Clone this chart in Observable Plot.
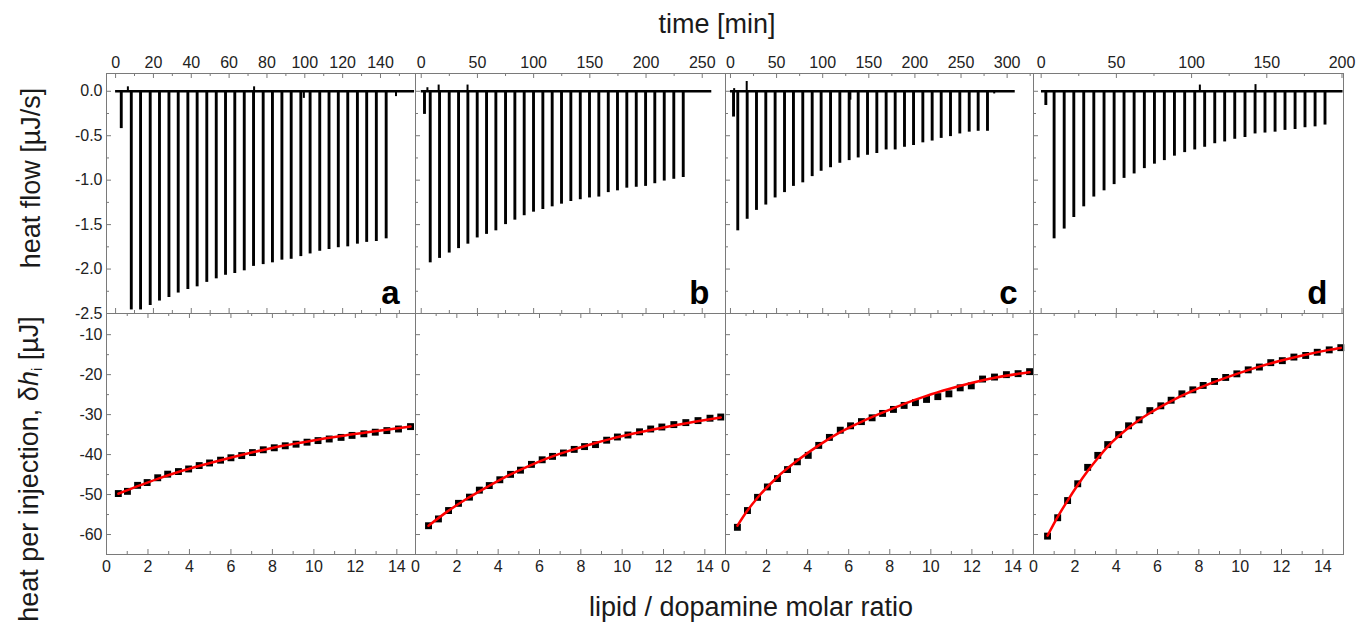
<!DOCTYPE html>
<html><head><meta charset="utf-8">
<script src="https://cdn.jsdelivr.net/npm/d3@7"></script>
<script src="https://cdn.jsdelivr.net/npm/@observablehq/plot@0.6"></script>
<style>
html,body{margin:0;padding:0;background:#fff;}
#fig{position:relative;width:1359px;height:623px;overflow:hidden;background:#fff;font-family:"Liberation Sans",Arial,Helvetica,sans-serif;color:#1a1a1a;}
.lbl{position:absolute;font-size:27px;line-height:27px;white-space:nowrap;}
.rot{transform:translate(-50%,-50%) rotate(-90deg);}
.sub{font-size:0.55em;position:relative;top:0.3em;}
</style></head><body>
<div id="fig">
  <div class="lbl" style="left:717px;top:11px;transform:translateX(-50%)">time [min]</div>
  <div class="lbl" style="left:751px;top:594px;transform:translateX(-50%)">lipid / dopamine molar ratio</div>
  <div class="lbl rot" style="left:30.6px;top:178px;">heat flow [µJ/s]</div>
  <div class="lbl rot" style="left:30.6px;top:469px;">heat per injection, δ<i>h</i><span class="sub">i</span> [µJ]</div>
</div>
<script>
// ---------- raw thermograms (injection time [min], peak heat flow [µJ/s]) ----------
const timeA = [3.0, 8.3, 13.2, 18.3, 23.2, 28.2, 33.1, 38.2, 43.1, 48.2, 53.2, 58.1, 63.0, 68.0, 72.9, 78.0, 82.9, 87.9, 92.8, 97.9, 102.8, 107.9, 112.8, 117.7, 122.7, 127.8, 132.7, 137.8, 143.0];
const peakA = [-0.42, -2.46, -2.46, -2.41, -2.36, -2.32, -2.27, -2.23, -2.20, -2.15, -2.11, -2.07, -2.05, -2.02, -1.97, -1.95, -1.93, -1.90, -1.89, -1.86, -1.83, -1.80, -1.78, -1.76, -1.75, -1.72, -1.70, -1.69, -1.66];
const timeB = [2.9, 8.0, 16.3, 24.9, 33.2, 41.5, 49.8, 58.1, 66.4, 75.0, 83.3, 91.6, 99.9, 108.2, 116.5, 124.8, 133.1, 141.5, 149.7, 158.0, 166.4, 174.6, 182.9, 191.3, 199.6, 207.8, 216.2, 224.7, 233.1];
const peakB = [-0.26, -1.93, -1.88, -1.82, -1.77, -1.72, -1.65, -1.61, -1.57, -1.50, -1.45, -1.40, -1.36, -1.33, -1.30, -1.27, -1.24, -1.22, -1.20, -1.19, -1.14, -1.12, -1.09, -1.08, -1.07, -1.04, -1.01, -0.99, -0.97];
const timeC = [3.3, 7.9, 18.1, 28.2, 38.3, 48.4, 58.6, 68.3, 78.4, 88.6, 98.3, 108.5, 118.6, 128.7, 138.5, 148.6, 158.7, 168.8, 178.6, 188.7, 198.5, 208.6, 218.7, 228.5, 238.6, 248.7, 258.9, 268.6, 278.7];
const peakC = [-0.29, -1.57, -1.44, -1.34, -1.28, -1.20, -1.14, -1.07, -1.03, -0.96, -0.90, -0.86, -0.81, -0.78, -0.75, -0.72, -0.70, -0.66, -0.66, -0.63, -0.61, -0.58, -0.56, -0.53, -0.51, -0.48, -0.46, -0.45, -0.45];
const timeD = [3.1, 8.6, 15.3, 21.7, 28.3, 35.0, 41.8, 48.5, 55.1, 61.8, 68.6, 75.3, 81.9, 88.6, 95.4, 102.1, 108.7, 115.4, 122.0, 128.7, 135.5, 142.2, 148.8, 155.5, 162.1, 168.8, 175.4, 182.1, 188.7];
const peakD = [-0.16, -1.66, -1.55, -1.42, -1.30, -1.19, -1.12, -1.05, -0.98, -0.93, -0.87, -0.82, -0.78, -0.73, -0.69, -0.66, -0.63, -0.59, -0.57, -0.54, -0.52, -0.48, -0.47, -0.46, -0.44, -0.43, -0.41, -0.40, -0.38];
// baseline extent [start, end] in min
const baseA = [0, 158], baseB = [0, 258.5], baseC = [0, 308.8], baseD = [0.2, 200.7];
// small baseline artefacts
const blipTimeA = [6.5, 73.2, 99.5, 148.2], blipValA = [0.05, 0.05, -0.08, -0.06];
const blipTimeB = [5.5, 15.5, 41.2], blipValB = [0.04, 0.07, 0.07];
const blipTimeC = [4.0, 17.6, 130.0, 286.0], blipValC = [0.03, 0.11, -0.10, -0.03];
const blipTimeD = [105.5, 142.5], blipValD = [0.07, 0.075];

// ---------- integrated heats (molar ratio, heat per injection [µJ]) ----------
const ratioA = [0.57,1.01,1.50,1.96,2.47,2.95,3.47,3.96,4.47,4.97,5.50,6.00,6.52,7.04,7.56,8.09,8.62,9.14,9.67,10.20,10.74,11.31,11.84,12.41,12.96,13.52,14.08,14.66];
const heatA  = [-49.75,-49.2,-47.7,-47.0,-45.8,-44.9,-44.25,-43.6,-42.75,-42.1,-41.4,-40.8,-40.25,-39.5,-38.8,-38.3,-37.8,-37.4,-36.9,-36.5,-36.1,-35.7,-35.2,-34.8,-34.4,-34.0,-33.6,-33.0];
const ratioB = [0.63,1.11,1.60,2.08,2.61,3.09,3.57,4.08,4.60,5.08,5.61,6.13,6.63,7.16,7.68,8.18,8.71,9.25,9.77,10.28,10.84,11.38,11.92,12.50,13.08,13.67,14.25,14.77];
const heatB  = [-57.8,-56.1,-54.0,-52.2,-50.65,-48.9,-47.75,-46.3,-44.95,-43.9,-42.45,-41.3,-40.45,-39.6,-38.7,-38.0,-37.5,-36.4,-35.6,-35.1,-34.3,-33.6,-33.1,-32.5,-32.0,-31.5,-30.9,-30.6];
const ratioC = [0.58,1.07,1.56,2.04,2.53,3.02,3.50,4.03,4.54,5.06,5.59,6.09,6.62,7.14,7.65,8.18,8.70,9.25,9.79,10.34,10.88,11.43,11.97,12.52,13.10,13.68,14.25,14.81];
const heatC  = [-58.2,-54.0,-50.7,-48.1,-46.0,-43.75,-41.8,-40.2,-37.7,-35.7,-33.9,-32.8,-31.75,-30.8,-29.7,-28.7,-27.7,-27.0,-26.2,-25.5,-24.8,-23.3,-22.8,-21.1,-20.6,-20.0,-19.75,-19.25];
const ratioD = [0.68,1.17,1.65,2.14,2.62,3.11,3.59,4.12,4.60,5.11,5.63,6.16,6.66,7.18,7.71,8.21,8.76,9.30,9.84,10.39,10.93,11.48,12.04,12.60,13.17,13.73,14.31,14.87];
const heatD  = [-60.4,-55.8,-51.5,-47.3,-43.2,-40.2,-37.5,-35.0,-32.8,-31.3,-29.0,-27.8,-26.4,-24.8,-23.8,-22.7,-21.7,-20.7,-19.8,-18.8,-18.1,-17.0,-16.5,-15.6,-15.2,-14.4,-13.8,-13.25];

// ---------- fitted curves ----------
const fitXA = [0.57,1.5,2.5,3.5,4.5,5.5,6.5,7.5,8.5,9.5,10.5,11.5,12.5,13.5,14.66];
const fitYA = [-49.8,-47.9,-46.0,-44.3,-42.8,-41.4,-40.1,-38.9,-37.8,-36.9,-36.0,-35.2,-34.5,-33.8,-33.0];
const fitXB = [0.63,1.5,2.5,3.5,4.5,5.5,6.5,7.5,8.5,9.5,10.5,11.5,12.5,13.5,14.77];
const fitYB = [-57.8,-54.4,-51.0,-48.0,-45.2,-42.8,-40.7,-38.95,-37.4,-36.0,-34.8,-33.7,-32.7,-31.8,-30.7];
const fitXC = [0.58,1.07,1.56,2.53,3.50,4.54,5.59,6.62,7.65,8.70,9.79,10.88,11.97,13.10,14.25,14.81];
const fitYC = [-57.8,-54.0,-50.8,-45.6,-41.5,-37.7,-34.4,-31.8,-29.5,-27.3,-25.3,-23.6,-22.1,-20.8,-19.8,-19.4];
const fitXD = [0.68,1.17,1.65,2.14,2.62,3.11,3.59,4.60,5.63,6.66,7.71,8.76,9.84,10.93,12.04,13.17,14.31,14.87];
const fitYD = [-60.3,-55.6,-51.5,-47.6,-44.1,-40.9,-38.0,-33.3,-29.6,-26.6,-24.0,-21.8,-19.8,-18.0,-16.4,-15.0,-13.8,-13.3];

// ---------- axes: domains and tick values ----------
const timeDomains = [[-4.8, 158.5], [-5.1, 270.7], [-5.4, 328.6], [-5.1, 201]];
const timeMajor = [[0,20,40,60,80,100,120,140],[0,50,100,150,200,250],[0,50,100,150,200,250,300],[0,50,100,150,200]];
const timeMinor = [[10,30,50,70,90,110,130,150],[25,75,125,175,225],[25,75,125,175,225,275,325],[25,75,125,175]];
const ratioDomains = [[0,14.9],[0,15],[0,15],[0,15]];
const ratioMajor = [0,2,4,6,8,10,12,14];
const ratioMinor = [1,3,5,7,9,11,13];
const flowDomain = [-2.5, 0.2];
const flowMajor = [0,-0.5,-1.0,-1.5,-2.0,-2.5];
const flowMinor = [-0.25,-0.75,-1.25,-1.75,-2.25];
const heatDomain = [-65, -4.7];
const heatMajor = [-10,-20,-30,-40,-50,-60];
const heatMinor = [-15,-25,-35,-45,-55];
const letters = ["a","b","c","d"];

// ---------- layout ----------
const colX0 = [106, 415, 725, 1033], colX1 = [415, 725, 1033, 1343];
const rowY0 = [73, 313], rowY1 = [313, 554];
const ML = 50, MR = 12, MT = 32, MB = 32;
const FONT = "'Liberation Sans', Arial, Helvetica, sans-serif";
const TICK = "#7a7a7a";
const fig = document.getElementById("fig");

function panel({col, row, xDomain, yDomain, xMajor, xMinor, yMajor, yMinor, xAnchor, showY, yFmt, marks}) {
  const x0 = colX0[col], x1 = colX1[col], y0 = rowY0[row], y1 = rowY1[row];
  const W = x1 - x0, H = y1 - y0;
  const m = [
    Plot.tickX(xMajor, {x: d => d, insetBottom: H - 5, stroke: TICK}),
    Plot.tickX(xMinor, {x: d => d, insetBottom: H - 3, stroke: TICK}),
    Plot.tickX(xMajor, {x: d => d, insetTop: H - 5, stroke: TICK}),
    Plot.tickX(xMinor, {x: d => d, insetTop: H - 3, stroke: TICK}),
    Plot.tickY(yMajor, {y: d => d, insetRight: W - 5, stroke: TICK}),
    Plot.tickY(yMinor, {y: d => d, insetRight: W - 3, stroke: TICK}),
    ...marks,
    Plot.frame({stroke: TICK, strokeWidth: 1}),
    Plot.axisX({ticks: xMajor, anchor: xAnchor, tickSize: 0, tickPadding: 6, tickFormat: d => String(d), fill: "#222", label: null})
  ];
  if (showY) m.push(Plot.axisY({ticks: yMajor, anchor: "left", tickSize: 0, tickPadding: 4, tickFormat: yFmt, fill: "#222", label: null}));
  const svg = Plot.plot({
    width: W + ML + MR, height: H + MT + MB,
    marginLeft: ML, marginRight: MR, marginTop: MT, marginBottom: MB,
    x: {domain: xDomain, label: null},
    y: showY ? {domain: yDomain, label: null} : {domain: yDomain, label: null, axis: null},
    style: {background: "transparent", overflow: "visible", fontSize: "16px", fontFamily: FONT, color: "#222"},
    marks: m
  });
  svg.style.position = "absolute";
  svg.style.left = (x0 - ML) + "px";
  svg.style.top = (y0 - MT) + "px";
  fig.appendChild(svg);
}

const times = [timeA, timeB, timeC, timeD];
const peaks = [peakA, peakB, peakC, peakD];
const bases = [baseA, baseB, baseC, baseD];
const blipT = [blipTimeA, blipTimeB, blipTimeC, blipTimeD];
const blipV = [blipValA, blipValB, blipValC, blipValD];
const ratios = [ratioA, ratioB, ratioC, ratioD];
const heats = [heatA, heatB, heatC, heatD];
const fitXs = [fitXA, fitXB, fitXC, fitXD];
const fitYs = [fitYA, fitYB, fitYC, fitYD];

for (let c = 0; c < 4; c++) {
  const spikes = times[c].map((t, i) => ({t, h: peaks[c][i]}));
  const blips = blipT[c].map((t, i) => ({t, h: blipV[c][i]}));
  panel({
    col: c, row: 0, xDomain: timeDomains[c], yDomain: flowDomain,
    xMajor: timeMajor[c], xMinor: timeMinor[c], yMajor: flowMajor, yMinor: flowMinor,
    xAnchor: "top", showY: c === 0, yFmt: d => d.toFixed(1),
    marks: [
      Plot.ruleY([0], {x1: bases[c][0], x2: bases[c][1], stroke: "#000", strokeWidth: 2.6}),
      Plot.ruleX(blips, {x: "t", y1: 0, y2: "h", stroke: "#000", strokeWidth: 2}),
      Plot.ruleX(spikes, {x: "t", y1: 0, y2: "h", stroke: "#000", strokeWidth: 2.9}),
      Plot.text([letters[c]], {text: d => d, frameAnchor: "bottom-right", dx: -16, dy: -10, textAnchor: "end", lineAnchor: "bottom", fontSize: 33, fontWeight: "bold", fill: "#000"})
    ]
  });
  const pts = ratios[c].map((r, i) => ({r, q: heats[c][i]}));
  const fit = fitXs[c].map((r, i) => ({r, q: fitYs[c][i]}));
  panel({
    col: c, row: 1, xDomain: ratioDomains[c], yDomain: heatDomain,
    xMajor: ratioMajor, xMinor: ratioMinor, yMajor: heatMajor, yMinor: heatMinor,
    xAnchor: "bottom", showY: c === 0, yFmt: d => String(d),
    marks: [
      Plot.dot(pts, {x: "r", y: "q", symbol: "square", r: 3.9, fill: "#000"}),
      Plot.line(fit, {x: "r", y: "q", curve: "monotone-x", stroke: "#f00", strokeWidth: 2.5})
    ]
  });
}
</script>
</body></html>
